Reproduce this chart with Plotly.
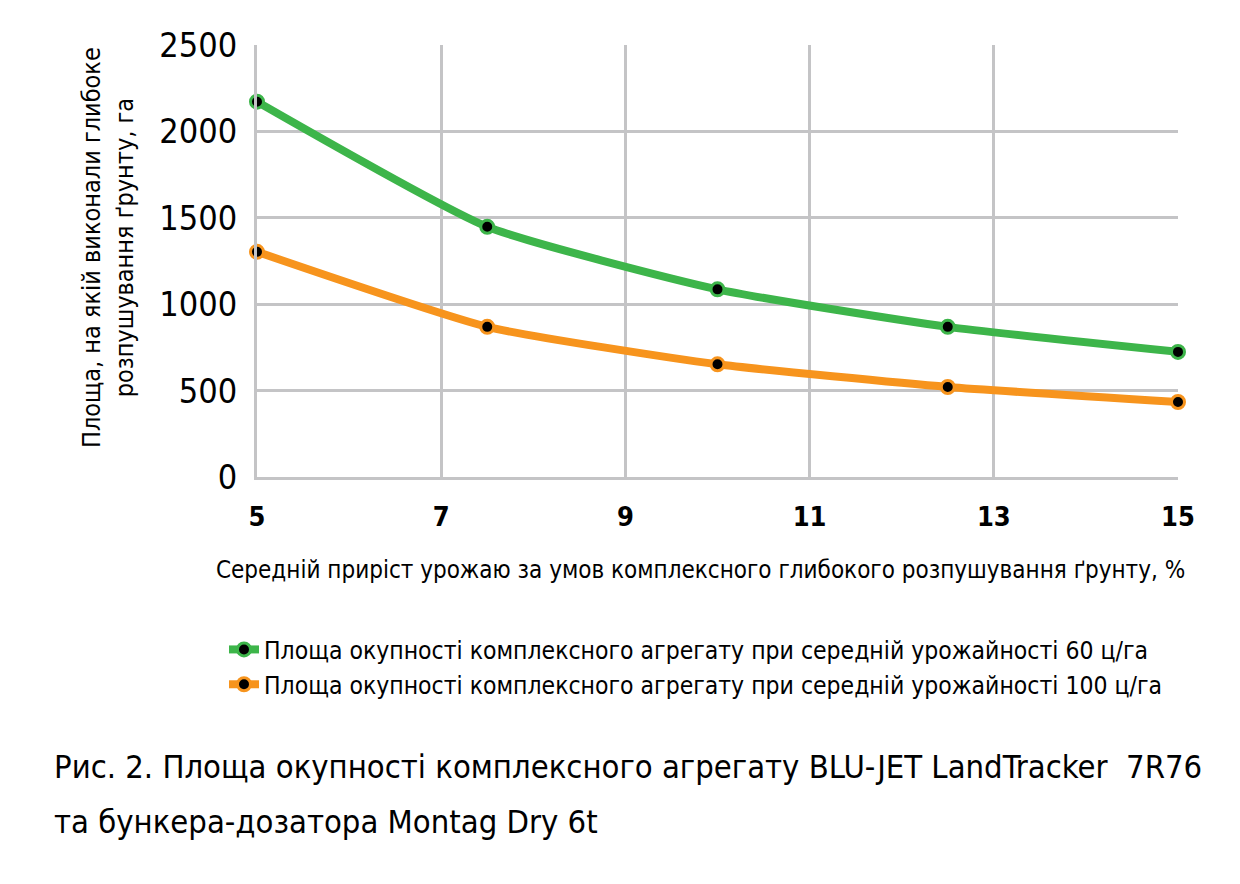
import plotly.graph_objects as go

x_vals = [5, 7.5, 10, 12.5, 15]
green_vals = [2172, 1448, 1086, 869, 724]
orange_vals = [1303, 869, 652, 521, 434]
x_ticks = [5, 7, 9, 11, 13, 15]
y_ticks = [0, 500, 1000, 1500, 2000, 2500]
name_green = "Площа окупності комплексного агрегату при середній урожайності 60 ц/га"
name_orange = "Площа окупності комплексного агрегату при середній урожайності 100 ц/га"
x_title = "Середній приріст урожаю за умов комплексного глибокого розпушування ґрунту, %"
y_title = "Площа, на якій виконали глибоке<br>розпушування ґрунту, га"
caption_1 = "Рис. 2. Площа окупності комплексного агрегату BLU-JET LandTracker  7R76"
caption_2 = "та бункера-дозатора Montag Dry 6t"

FONT = "DejaVu Sans Condensed, DejaVu Sans, sans-serif"

W, H = 1240, 884
L, R, T, B = 257, 62, 45, 407
PW = W - L - R
PH = H - T - B

def px(xp):
    return (xp - L) / PW

def py(yp):
    return (H - B - yp) / PH

def f(size):
    return dict(size=size, family=FONT, color="black")

fig = go.Figure()
for vals, col, nm in [(green_vals, "#3db54a", name_green), (orange_vals, "#f7941d", name_orange)]:
    fig.add_trace(go.Scatter(
        x=x_vals, y=vals, name=nm, mode="lines+markers",
        line=dict(color=col, width=8, shape="spline", smoothing=0.5),
        marker=dict(color="black", size=13, line=dict(color=col, width=3)),
        cliponaxis=False,
    ))

fig.update_layout(
    width=W, height=H,
    margin=dict(l=L, r=R, t=T, b=B, pad=0),
    paper_bgcolor="white", plot_bgcolor="white",
    font=f(24),
    showlegend=True,
    legend=dict(
        x=px(224), y=py(627),
        xanchor="left", yanchor="top",
        font=f(24.5), tracegroupgap=0,
        bgcolor="rgba(0,0,0,0)",
    ),
    xaxis=dict(
        range=[5, 15], tickvals=x_ticks, ticktext=["<b>%d</b>" % t for t in x_ticks],
        showgrid=True, gridcolor="#c4c4c6", gridwidth=3,
        zeroline=False, showline=True, linecolor="#c4c4c6", linewidth=3,
        ticks="outside", ticklen=14, tickcolor="rgba(0,0,0,0)",
        tickfont=f(27),
    ),
    yaxis=dict(
        range=[0, 2500], tickvals=y_ticks,
        showgrid=True, gridcolor="#c4c4c6", gridwidth=3,
        zeroline=False, showline=True, linecolor="#c4c4c6", linewidth=3,
        ticks="outside", ticklen=10, tickcolor="rgba(0,0,0,0)",
        tickfont=f(34),
    ),
    annotations=[
        dict(xref="paper", yref="paper", x=px(700), y=py(570), text=x_title,
             showarrow=False, font=f(24), xanchor="center", yanchor="middle"),
        dict(xref="paper", yref="paper", x=px(108), y=py(248), text=y_title,
             textangle=-90, showarrow=False, font=f(25), xanchor="center", yanchor="middle"),
        dict(xref="paper", yref="paper", x=px(52), y=py(767), text=caption_1,
             showarrow=False, font=f(32.5), xanchor="left", yanchor="middle", align="left"),
        dict(xref="paper", yref="paper", x=px(52), y=py(822), text=caption_2,
             showarrow=False, font=f(32.5), xanchor="left", yanchor="middle", align="left"),
    ],
)

fig.write_html("out.html")
